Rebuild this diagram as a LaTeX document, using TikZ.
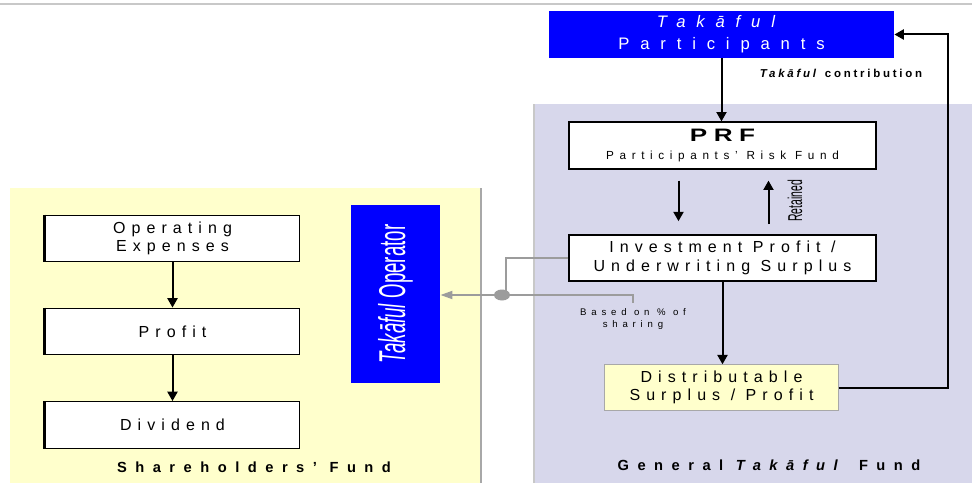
\documentclass[tikz,border=0pt]{standalone}
\usepackage{fontspec}
\setmainfont{Liberation Sans}
\usetikzlibrary{
  arrows.meta,
  positioning,
  calc,
}
\definecolor{tkblue}{HTML}{0000FF}
\definecolor{fundlav}{HTML}{D7D7EB}
\definecolor{fundyel}{HTML}{FFFFCC}
\definecolor{edgegray}{HTML}{A8A8A8}
\definecolor{linkgray}{HTML}{9C9C9C}
\definecolor{rulegray}{HTML}{C8C8C8}
\newcommand{\spaced}[1]{\addfontfeatures{LetterSpace=#1}}
\tikzset{
  >={Triangle[length=7pt,width=7.5pt]},
  boxfont/.style={font=\fontsize{12}{14}\selectfont\spaced{38}},
  flowbox/.style={
    draw=black,
    line width=1.2pt,
    fill=white,
    inner sep=0pt,
    align=center,
    boxfont,
  },
  stackbox/.style={
    flowbox,
    line width=0.9pt,
    minimum width=191pt,
    minimum height=35pt,
  },
  bluebox/.style={
    fill=tkblue,
    inner sep=0pt,
    align=center,
    text=white,
  },
  flow/.style={->, line width=1.5pt, black},
  link/.style={line width=1.4pt, linkgray},
  fundtitle/.style={font=\bfseries\fontsize{11}{12}\selectfont\spaced{58}},
}

\begin{document}
\begin{tikzpicture}[x=0.75pt,y=0.75pt]
  \useasboundingbox (0,0) rectangle (972,483);
  \fill[white] (0,0) rectangle (972,483);
  \draw[rulegray, line width=1.5pt] (0,479) -- (972,479);

  % fund regions
  \fill[fundyel] (10,0) rectangle (482,295);
  \draw[edgegray, line width=2.2pt] (481,0) -- (481,295);
  \fill[fundlav] (533,0) rectangle (972,379);
  \draw[rulegray, line width=2.2pt] (534,0) -- (534,379);
  \node[fundtitle] (sftitle) at (254,16) {Shareholders' Fund};
  \node[fundtitle] (gtftitle) at (769,18) {General \textit{Takāful} Fund};

  % general takaful fund
  \node[bluebox, minimum width=259pt, minimum height=35pt,
        font=\fontsize{12.5}{16.5}\selectfont\spaced{65}] (part) at (721.5,448.5)
        {\textit{Takāful}\\Participants};
  \node[flowbox, minimum width=230pt, minimum height=35pt] (prf) at (722.5,337.5)
        {\scalebox{1.45}[1]{\bfseries\fontsize{13.5}{12}\selectfont\spaced{25}PRF}\\[-1pt]{\fontsize{8.8}{10}\selectfont\spaced{48}Participants' Risk Fund}};
  \node[flowbox, minimum width=230pt, minimum height=34.5pt] (invest) at (722.5,225)
        {Investment Profit /\\Underwriting Surplus};
  \node[flowbox, draw=edgegray, fill=fundyel, line width=0.8pt,
        minimum width=175pt, minimum height=34pt] (distrib) at (721.5,95.5)
        {Distributable\\Surplus / Profit};

  \node[font=\bfseries\fontsize{8.6}{9}\selectfont\spaced{24}] (contrib) at (841,410)
        {\textit{Takāful} contribution};
  \node (retained) at (795,282)
        {\rotatebox{90}{\scalebox{0.52}[1]{\fontsize{15}{16}\selectfont Retained}}};

  \draw[flow] (part.south) -- (part.south |- prf.north);
  \draw[flow] ($(prf.south)+(-44,-11)$) -- ($(invest.north)+(-44,13)$);
  \draw[flow] ($(invest.north)+(46,10)$) -- ($(prf.south)+(46,-11)$);
  \draw[flow] (invest.south) -- (invest.south |- distrib.north);
  \coordinate (back) at (948,95.5);
  \draw[flow] (distrib.east) -- (back) |- (part.east);

  % shareholders' fund
  \node[stackbox] (opex) at (172.5,244.5) {Operating\\Expenses};
  \node[stackbox] (profit) at (172.5,151.5) {Profit};
  \node[stackbox] (dividend) at (172.5,58) {Dividend};
  \foreach \b in {opex,profit,dividend} {
    \draw[black, line width=2.4pt] (\b.north west) -- (\b.south west);
  }
  \draw[flow] (opex.south) -- (profit.north);
  \draw[flow] (profit.south) -- (dividend.north);

  \node[bluebox, minimum width=67pt, minimum height=133.5pt] (operator) at (395.5,189)
        {\rotatebox{90}{\scalebox{0.5}[1]{\fontsize{28}{30}\selectfont\textit{Takāful} Operator}}};

  % sharing link
  \coordinate (jn) at (506,188);
  \node[font=\fontsize{7.2}{9.7}\selectfont\spaced{50}, align=center] (sharing) at (633,164)
        {Based on \% of\\sharing};
  \draw[link] (invest.west) -| (jn);
  \draw[link] (jn) -| (sharing.north);
  \draw[link, -{Triangle[length=9pt,width=6pt]}] (jn) -- (jn -| operator.east);
  \fill[linkgray] (502,188) ellipse (8 and 5.5);
\end{tikzpicture}
\end{document}
